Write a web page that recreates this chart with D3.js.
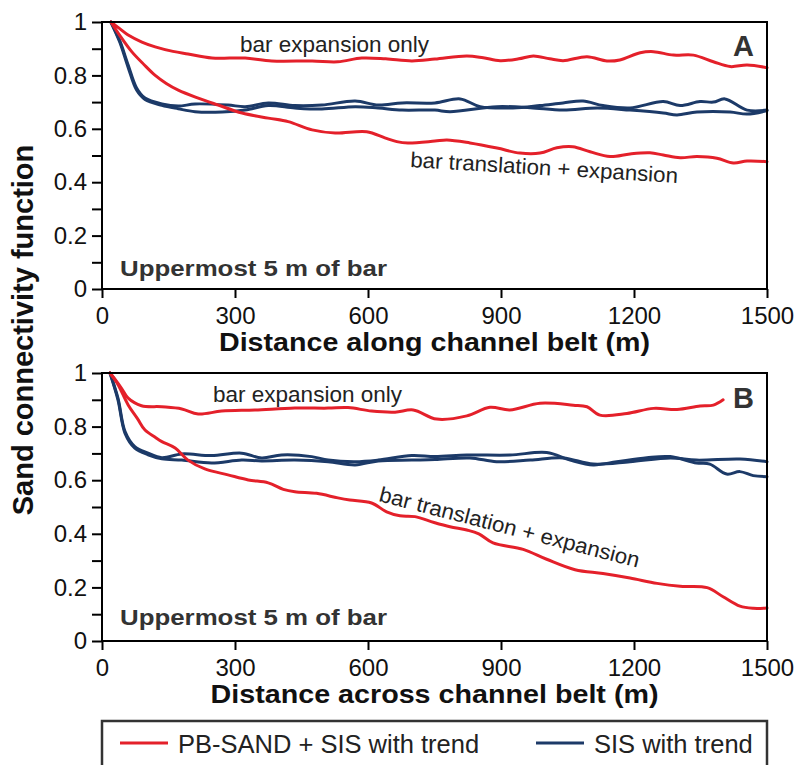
<!DOCTYPE html>
<html><head><meta charset="utf-8">
<script src="https://cdn.jsdelivr.net/npm/d3@7"></script>
<style>
body{margin:0;background:#fff}
svg{display:block}
text{font-family:"Liberation Sans",Arial,Helvetica,sans-serif}
</style>
</head><body>
<svg id="c" width="803" height="765"></svg>
<script>
// ---------------- DATA ----------------
const xTicks = [0, 300, 600, 900, 1200, 1500];
const yTicks = [0, 0.1, 0.2, 0.3, 0.4, 0.5, 0.6, 0.7, 0.8, 0.9, 1];
const yLabelTicks = [0, 0.2, 0.4, 0.6, 0.8, 1];

const seriesNames = ["PB-SAND + SIS with trend", "SIS with trend"];
const panelLabels = ["A", "B"];
const xTitles = ["Distance along channel belt (m)", "Distance across channel belt (m)"];
const yTitle = "Sand connectivity function";
const noteUpper = "Uppermost 5 m of bar";
const noteExpansion = "bar expansion only";
const noteTranslation = "bar translation + expansion";

// Panel A (along channel belt)
const aRedExpansion = [[20,1],[40,0.975],[59,0.951],[90,0.925],[120,0.907],[160,0.89],[194,0.88],[248,0.865],[323,0.865],[383,0.854],[474,0.854],[532,0.851],[586,0.865],[640,0.862],[699,0.854],[751,0.861],[823,0.873],[860,0.866],[898,0.855],[940,0.862],[973,0.873],[1010,0.862],[1040,0.855],[1094,0.87],[1139,0.854],[1168,0.858],[1214,0.885],[1244,0.889],[1289,0.876],[1334,0.876],[1379,0.851],[1417,0.833],[1455,0.839],[1500,0.829]];
const aRedTranslation = [[20,1],[40,0.95],[67,0.889],[95,0.84],[120,0.80],[145,0.77],[172,0.745],[217,0.715],[262,0.689],[316,0.659],[375,0.64],[420,0.627],[474,0.596],[526,0.584],[597,0.589],[638,0.566],[665,0.552],[690,0.547],[751,0.554],[778,0.558],[830,0.547],[891,0.528],[943,0.509],[988,0.509],[1026,0.529],[1062,0.533],[1101,0.514],[1146,0.496],[1191,0.506],[1236,0.51],[1266,0.502],[1304,0.492],[1342,0.496],[1387,0.49],[1424,0.472],[1455,0.479],[1500,0.477]];
const aBlue1 = [[20,1],[40,0.93],[59,0.839],[78,0.753],[97,0.715],[135,0.693],[172,0.685],[210,0.693],[284,0.689],[323,0.683],[375,0.697],[435,0.687],[496,0.689],[571,0.704],[623,0.689],[677,0.697],[751,0.697],[808,0.712],[853,0.683],[927,0.678],[988,0.687],[1040,0.697],[1085,0.704],[1130,0.687],[1191,0.678],[1266,0.702],[1304,0.687],[1349,0.702],[1379,0.70],[1405,0.712],[1455,0.67],[1500,0.67]];
const aBlue2 = [[20,1],[40,0.925],[59,0.83],[78,0.745],[97,0.71],[135,0.688],[172,0.675],[210,0.664],[271,0.663],[323,0.67],[375,0.687],[435,0.678],[496,0.674],[571,0.683],[623,0.678],[677,0.67],[751,0.67],[785,0.664],[891,0.683],[966,0.679],[1040,0.67],[1117,0.678],[1191,0.67],[1266,0.659],[1297,0.652],[1342,0.663],[1417,0.663],[1455,0.655],[1500,0.668]];

// Panel B (across channel belt)
const bRedExpansion = [[18,1],[30,0.975],[44,0.943],[59,0.906],[89,0.878],[135,0.874],[180,0.866],[217,0.847],[270,0.858],[345,0.862],[435,0.869],[510,0.869],[555,0.871],[608,0.858],[661,0.854],[702,0.862],[755,0.828],[823,0.84],[875,0.872],[920,0.862],[988,0.887],[1063,0.88],[1094,0.874],[1123,0.843],[1184,0.849],[1244,0.868],[1297,0.864],[1349,0.877],[1379,0.88],[1401,0.9]];
const bRedTranslation = [[18,1],[35,0.96],[59,0.881],[80,0.83],[97,0.787],[120,0.76],[135,0.744],[165,0.72],[194,0.675],[232,0.642],[284,0.62],[330,0.601],[375,0.59],[409,0.566],[435,0.557],[484,0.551],[532,0.534],[559,0.526],[608,0.515],[642,0.482],[672,0.467],[706,0.464],[749,0.442],[785,0.426],[823,0.414],[850,0.40],[882,0.366],[950,0.342],[1003,0.305],[1067,0.266],[1130,0.252],[1191,0.235],[1252,0.215],[1304,0.204],[1365,0.199],[1401,0.165],[1439,0.13],[1469,0.122],[1500,0.123]];
const bBlue1 = [[18,1],[36,0.906],[52,0.781],[74,0.725],[104,0.701],[135,0.684],[180,0.698],[247,0.692],[315,0.701],[360,0.683],[405,0.694],[473,0.688],[510,0.675],[571,0.669],[623,0.675],[699,0.692],[751,0.688],[823,0.694],[920,0.694],[1003,0.703],[1056,0.675],[1108,0.657],[1161,0.669],[1229,0.684],[1282,0.688],[1341,0.664],[1371,0.66],[1409,0.623],[1439,0.632],[1469,0.617],[1500,0.613]];
const bBlue2 = [[18,1],[36,0.9],[52,0.775],[74,0.72],[104,0.695],[135,0.68],[180,0.675],[247,0.664],[315,0.675],[360,0.672],[435,0.675],[510,0.669],[571,0.657],[623,0.672],[699,0.675],[751,0.677],[830,0.683],[890,0.669],[966,0.675],[1040,0.683],[1108,0.66],[1191,0.669],[1282,0.683],[1341,0.675],[1439,0.679],[1500,0.669]];

// ---------------- STYLE / LAYOUT ----------------
const RED = "#e4202a", BLUE = "#1c3a68", TXT = "#222", DARK = "#333";
const svg = d3.select("#c");
svg.append("rect").attr("width",803).attr("height",765).attr("fill","#fff");

const x = d3.scaleLinear().domain([0, 1500]).range([102, 767]);

const panels = [
  {top:22, bottom:289, label:panelLabels[0], xTitle:xTitles[0], red:[aRedExpansion, aRedTranslation], blue:[aBlue1, aBlue2],
   expPos:[240,51.7], transPos:[410,167], transAngle:3.4, labelBase:55.7, upperBase:276, titleBase:351},
  {top:373, bottom:641, label:panelLabels[1], xTitle:xTitles[1], red:[bRedExpansion, bRedTranslation], blue:[bBlue1, bBlue2],
   expPos:[213,401.7], transPos:[378,501], transAngle:14.4, labelBase:407.7, upperBase:625, titleBase:703}
];

function fit(sel, w){ sel.attr("textLength", w).attr("lengthAdjust","spacingAndGlyphs"); return sel; }

panels.forEach(p => {
  const y = d3.scaleLinear().domain([0, 1]).range([p.bottom, p.top]);
  const g = svg.append("g");
  const line = d3.line().x(d => x(d[0])).y(d => y(d[1])).curve(d3.curveCatmullRom.alpha(0.5));

  p.blue.forEach(s => g.append("path").datum(s).attr("d", line).attr("fill","none")
    .attr("stroke", BLUE).attr("stroke-width", 3).attr("stroke-linejoin","round").attr("stroke-linecap","round"));
  p.red.forEach(s => g.append("path").datum(s).attr("d", line).attr("fill","none")
    .attr("stroke", RED).attr("stroke-width", 3).attr("stroke-linejoin","round").attr("stroke-linecap","round"));

  // frame
  g.append("rect").attr("x", x(0)).attr("y", y(1)).attr("width", x(1500) - x(0)).attr("height", y(0) - y(1))
    .attr("fill","none").attr("stroke","#000").attr("stroke-width", 2);

  // y axis
  const ya = d3.axisLeft(y).tickValues(yTicks).tickSize(10).tickPadding(5)
    .tickFormat(d => yLabelTicks.some(v => Math.abs(v - d) < 1e-9) ? d3.format("~g")(d) : "");
  g.append("g").attr("transform", `translate(${x(0)},0)`).call(ya)
    .attr("font-size", 24).attr("font-family", '"Liberation Sans", Arial, sans-serif')
    .call(a => { a.select(".domain").remove();
      a.selectAll("line").attr("stroke","#000").attr("stroke-width",2);
      a.selectAll("text").attr("fill", "#111"); });

  // x axis
  const xa = d3.axisBottom(x).tickValues(xTicks).tickSize(9).tickPadding(9).tickFormat(d3.format("d"));
  g.append("g").attr("transform", `translate(0,${y(0)})`).call(xa)
    .attr("font-size", 24).attr("font-family", '"Liberation Sans", Arial, sans-serif')
    .call(a => { a.select(".domain").remove();
      a.selectAll("line").attr("stroke","#000").attr("stroke-width",2);
      a.selectAll("text").attr("fill", "#111"); });

  // x title
  const xt = g.append("text").attr("x", (x(0) + x(1500)) / 2).attr("y", p.titleBase)
    .attr("text-anchor","middle").attr("font-weight","bold").attr("font-size", 25).attr("fill","#111").text(p.xTitle);
  fit(xt, p.label === "A" ? 431 : 448);

  // panel letter
  g.append("text").attr("x", 754).attr("y", p.labelBase).attr("text-anchor","end")
    .attr("font-weight","bold").attr("font-size", 29).attr("fill", DARK).text(p.label);

  // notes
  fit(g.append("text").attr("x", 120).attr("y", p.upperBase).attr("font-weight","bold").attr("font-size", 22.5)
    .attr("fill", DARK).text(noteUpper), 267);
  fit(g.append("text").attr("x", p.expPos[0]).attr("y", p.expPos[1]).attr("font-size", 21.5)
    .attr("fill", TXT).text(noteExpansion), 189);
  fit(g.append("text").attr("transform", `translate(${p.transPos[0]},${p.transPos[1]}) rotate(${p.transAngle})`)
    .attr("font-size", 21.5).attr("fill", TXT).text(noteTranslation), 268);
});

// y title
svg.append("text").attr("transform", "translate(33,330) rotate(-90)").attr("text-anchor","middle")
  .attr("font-weight","bold").attr("font-size", 29).attr("fill","#111").text(yTitle);

// legend
const lg = svg.append("g");
lg.append("rect").attr("x", 102).attr("y", 721).attr("width", 665).attr("height", 80)
  .attr("fill","#fff").attr("stroke", "#333").attr("stroke-width", 2.5);
const legendItems = [
  {name: seriesNames[0], color: RED, x0: 120, x1: 168, tx: 178},
  {name: seriesNames[1], color: BLUE, x0: 536, x1: 584, tx: 594}
];
legendItems.forEach(it => {
  lg.append("line").attr("x1", it.x0).attr("x2", it.x1).attr("y1", 743).attr("y2", 743)
    .attr("stroke", it.color).attr("stroke-width", 3);
  lg.append("text").attr("x", it.tx).attr("y", 753.3).attr("font-size", 25.5).attr("fill", TXT).text(it.name);
});
</script>
</body></html>
